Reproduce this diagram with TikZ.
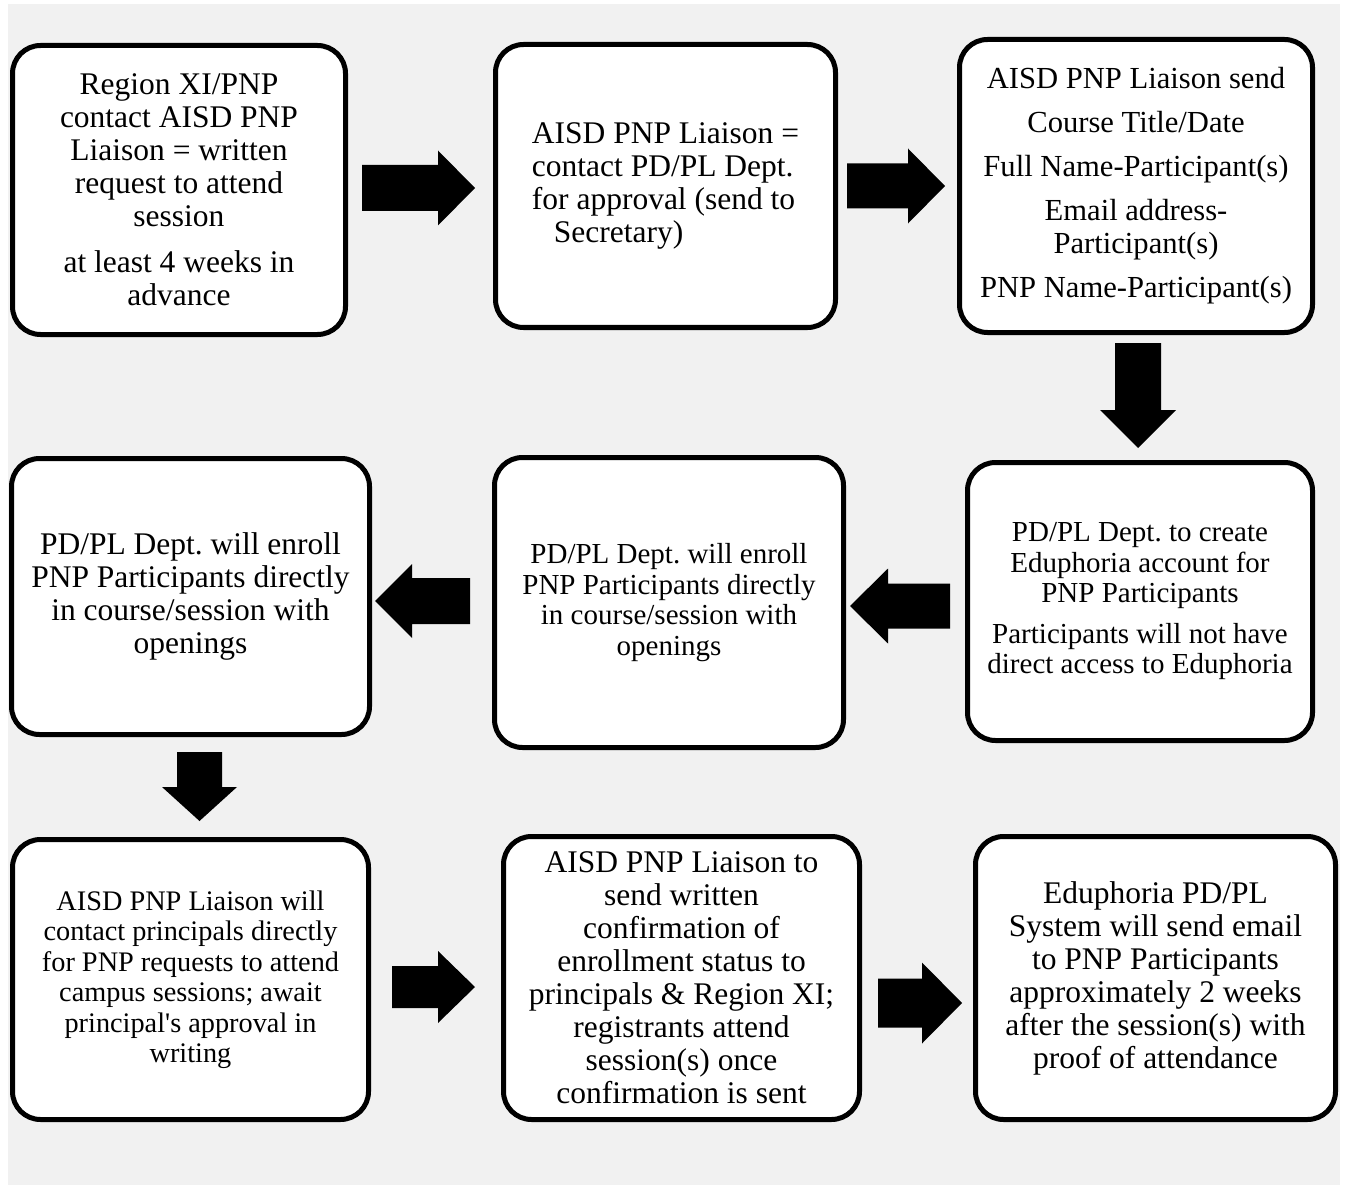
\documentclass[tikz,border=0pt]{standalone}
\usepackage{fontspec}
\setmainfont{Liberation Serif}
\frenchspacing
\definecolor{bggray}{HTML}{F1F1F1}
\tikzset{
  box/.style={draw=black, line width=5pt, fill=white, rounded corners=28pt, inner sep=0pt, align=center},
  bigtext/.style={font=\fontsize{31.5}{33}\selectfont},
  smalltext/.style={font=\fontsize{29}{30.5}\selectfont},
  blockarrow/.style={fill=black},
}
% tail, head base, tip, centre, body half, head half
\newcommand\blockH[6]{\fill[blockarrow] (#1,{#4-#5}) -- (#2,{#4-#5}) -- (#2,{#4-#6}) -- (#3,#4) -- (#2,{#4+#6}) -- (#2,{#4+#5}) -- (#1,{#4+#5}) -- cycle;}
\newcommand\blockV[6]{\fill[blockarrow] ({#4-#5},#1) -- ({#4-#5},#2) -- ({#4-#6},#2) -- (#4,#3) -- ({#4+#6},#2) -- ({#4+#5},#2) -- ({#4+#5},#1) -- cycle;}
\begin{document}
\begin{tikzpicture}[x=1pt,y=-1pt]
\useasboundingbox (0,0) rectangle (1345,1185);
\fill[white] (0,0) rectangle (1345,1185);
\fill[bggray] (8,4) rectangle (1340,1185);

\node[box,bigtext,minimum width=333,minimum height=289] (b1) at (179,190)
  {Region XI/PNP\\contact AISD PNP\\Liaison = written\\request to attend\\session\\[13pt]at least 4 weeks in\\advance};
\node[box,bigtext,align=left,minimum width=340,minimum height=283] (b2) at (665.5,186)
  {AISD PNP Liaison =\\contact PD/PL Dept.\\for approval (send to\\\hspace*{22pt}Secretary)};
\node[box,font=\fontsize{30.6}{33}\selectfont,minimum width=353,minimum height=293] (b3) at (1136,186)
  {AISD PNP Liaison send\\[11pt]Course Title/Date\\[11pt]Full Name-Participant(s)\\[11pt]Email address-\\Participant(s)\\[11pt]PNP Name-Participant(s)};
\node[box,bigtext,minimum width=358,minimum height=276] (b4) at (190.5,596.5)
  {PD/PL Dept. will enroll\\PNP Participants directly\\in course/session with\\openings};
\node[box,smalltext,minimum width=349,minimum height=290] (b5) at (669,602.5)
  {PD/PL Dept. will enroll\\PNP Participants directly\\in course/session with\\openings};
\node[box,smalltext,minimum width=345,minimum height=278] (b6) at (1140,601.5)
  {PD/PL Dept. to create\\Eduphoria account for\\PNP Participants\\[10pt]Participants will not have\\direct access to Eduphoria};
\node[box,font=\fontsize{28.3}{30.5}\selectfont,minimum width=356,minimum height=280] (b7) at (190.5,979.5)
  {AISD PNP Liaison will\\contact principals directly\\for PNP requests to attend\\campus sessions; await\\principal\textquotesingle s approval in\\writing};
\node[box,bigtext,minimum width=356,minimum height=283] (b8) at (681.5,978)
  {AISD PNP Liaison to\\send written\\confirmation of\\enrollment status to\\principals \& Region XI;\\registrants attend\\session(s) once\\confirmation is sent};
\node[box,bigtext,minimum width=360,minimum height=283] (b9) at (1155.5,978)
  {Eduphoria PD/PL\\System will send email\\to PNP Participants\\approximately 2 weeks\\after the session(s) with\\proof of attendance};

% block arrows
\blockH{362}{438}{475}{188}{23}{37.5}   % b1 -> b2
\blockH{847}{908}{945}{186}{22.5}{37.5} % b2 -> b3
\blockV{343}{410}{448}{1138}{23}{38}    % b3 -> b6
\blockH{950}{888}{850}{606}{22.5}{37.5} % b6 -> b5
\blockH{470}{412}{375}{601}{23}{37}     % b5 -> b4
\blockV{752}{787}{821}{199.5}{22.5}{37.5} % b4 -> b7
\blockH{392}{438}{475}{987}{21}{36}     % b7 -> b8
\blockH{878}{922}{962}{1003}{24.5}{40.5} % b8 -> b9
\end{tikzpicture}
\end{document}
